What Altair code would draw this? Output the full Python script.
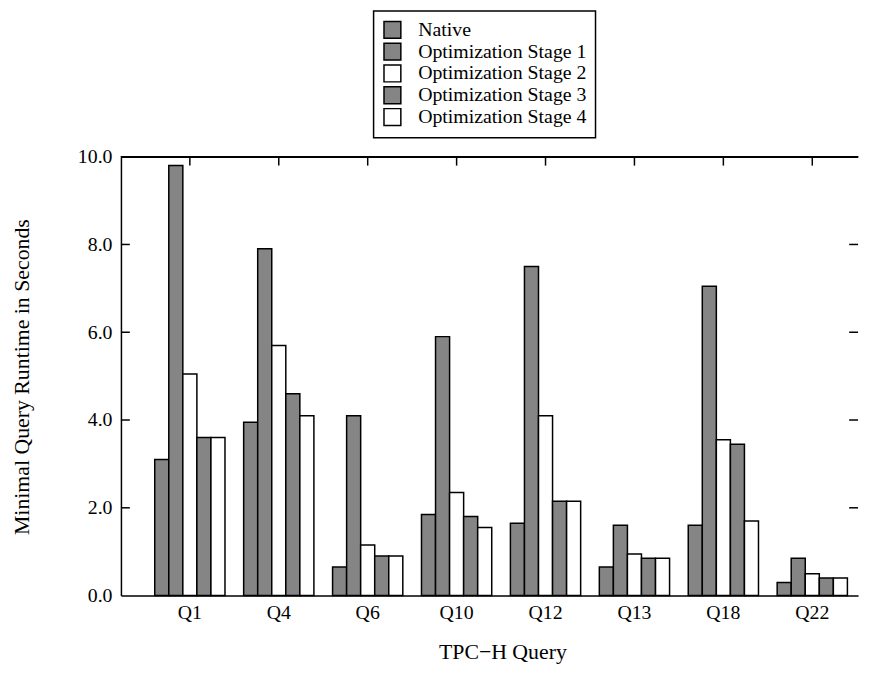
import altair as alt
import pandas as pd

queries = ["Q1", "Q4", "Q6", "Q10", "Q12", "Q13", "Q18", "Q22"]
series = ["Native", "Optimization Stage 1", "Optimization Stage 2",
          "Optimization Stage 3", "Optimization Stage 4"]
native = [3.1, 3.95, 0.65, 1.85, 1.65, 0.65, 1.6, 0.3]
stage1 = [9.8, 7.9, 4.1, 5.9, 7.5, 1.6, 7.05, 0.85]
stage2 = [5.05, 5.7, 1.15, 2.35, 4.1, 0.95, 3.55, 0.5]
stage3 = [3.6, 4.6, 0.9, 1.8, 2.15, 0.85, 3.45, 0.4]
stage4 = [3.6, 4.1, 0.9, 1.55, 2.15, 0.85, 1.7, 0.4]
fills = ["#858585", "#858585", "#ffffff", "#858585", "#ffffff"]
y_labels = [0, 2, 4, 6, 8, 10]
inner_ticks = [2, 4, 6, 8]

rows = []
for s, vals in zip(series, [native, stage1, stage2, stage3, stage4]):
    for q, v in zip(queries, vals):
        rows.append({"query": q, "series": s, "runtime": v})
df = pd.DataFrame(rows)

W, H = 744, 443
FONT = "Liberation Serif"

xscale = alt.Scale(domain=queries, paddingInner=0.21, paddingOuter=0.25, align=0.76)
yscale = alt.Scale(domain=[0, 10], nice=False)

bars = alt.Chart(df).mark_bar(stroke="black", strokeWidth=1.5).encode(
    x=alt.X("query:N", scale=xscale, sort=queries,
            axis=alt.Axis(title="TPC−H Query", labelAngle=0, ticks=False,
                          labelPadding=7, titleX=385, titleY=57,
                          titleBaseline="middle")),
    xOffset=alt.XOffset("series:N", sort=series,
                        scale=alt.Scale(domain=series, paddingInner=0, paddingOuter=0)),
    y=alt.Y("runtime:Q", scale=yscale,
            axis=alt.Axis(title="Minimal Query Runtime in Seconds", values=y_labels,
                          format=".1f", ticks=False, grid=False, labelPadding=9,
                          titleX=-100, titleY=222, titleBaseline="middle")),
    fill=alt.Fill("series:N", sort=series,
                  scale=alt.Scale(domain=series, range=fills),
                  legend=alt.Legend(title=None, orient="none", legendX=255, legendY=-147,
                                    strokeColor="black", padding=9,
                                    fillColor="white", symbolType="square",
                                    symbolSize=289, symbolStrokeColor="black",
                                    symbolStrokeWidth=1.5, labelFontSize=20,
                                    labelFont=FONT, rowPadding=-2, labelOffset=16,
                                    labelLimit=400, symbolOpacity=1,
                                    labelExpr="datum.label + '\u00a0\u00a0\u00a0\u00a0'")),
)

tick_df = pd.DataFrame({"runtime": inner_ticks})
left_ticks = alt.Chart(tick_df).mark_rule(color="black", strokeWidth=1.5).encode(
    y=alt.Y("runtime:Q", scale=yscale), x=alt.value(0), x2=alt.value(9))
right_ticks = alt.Chart(tick_df).mark_rule(color="black", strokeWidth=1.5).encode(
    y=alt.Y("runtime:Q", scale=yscale), x=alt.value(W - 9), x2=alt.value(W))

q_df = pd.DataFrame({"query": queries})
top_ticks = alt.Chart(q_df).mark_rule(color="black", strokeWidth=1.5).encode(
    x=alt.X("query:N", scale=xscale, sort=queries), y=alt.value(0), y2=alt.value(9))
top_border = alt.Chart(q_df).mark_rule(color="black", strokeWidth=1.5).encode(
    x=alt.value(0), x2=alt.value(W), y=alt.value(0))

chart = alt.layer(bars, left_ticks, right_ticks, top_ticks, top_border).properties(
    width=W, height=H,
    autosize=alt.AutoSizeParams(type="none"),
    padding={"left": 114, "top": 147, "right": 8, "bottom": 67},
    background="white",
).configure_view(stroke=None).configure_axis(
    domainColor="black", domainWidth=1.5, labelColor="black", titleColor="black",
    labelFont=FONT, titleFont=FONT, labelFontSize=20, titleFontSize=22,
    titleFontWeight="normal", grid=False,
).configure_legend(labelColor="black", strokeWidth=1.5)

chart.save("out.html", embed_options={"renderer": "svg", "actions": False})
